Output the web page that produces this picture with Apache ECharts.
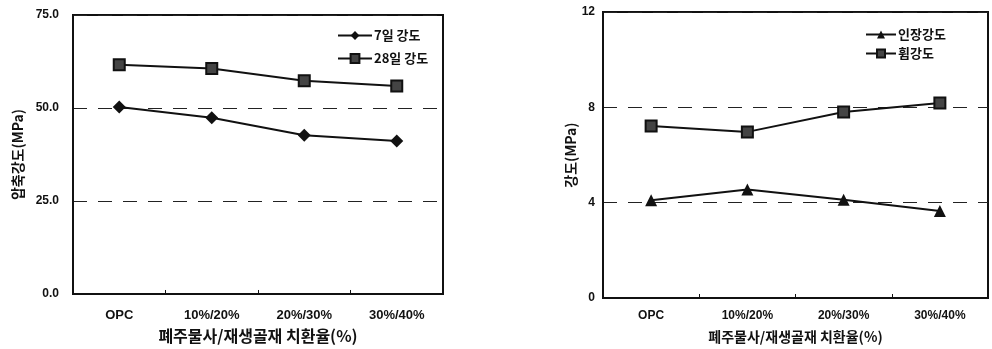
<!DOCTYPE html>
<html><head><meta charset="utf-8">
<script src="https://cdn.jsdelivr.net/npm/echarts@6/dist/echarts.min.js"></script>
<style>html,body{margin:0;padding:0;background:#fff}#c{width:992px;height:349px}</style>
</head><body><div id="c"></div>
<script>
const categories = ['OPC', '10%/20%', '20%/30%', '30%/40%'];
const comp7 = [50.3, 47.4, 42.7, 41.1];
const comp28 = [61.6, 60.6, 57.3, 55.9];
const tensile = [4.1, 4.55, 4.12, 3.65];
const flexural = [7.22, 6.97, 7.8, 8.18];
const leftTicks = { min: 0, max: 75, interval: 25 };
const rightTicks = { min: 0, max: 12, interval: 4 };
const xTitle = '폐주물사/재생골재 치환율(%)';

const FONT = '"Liberation Sans", Arial, "Noto Sans CJK KR", sans-serif';
const KFONT = '"Noto Sans CJK KR", sans-serif';
const ink = '#111';

const chart = echarts.init(document.getElementById('c'));
function xAxis(gi, margin, nameGap, labelSize, nameSize) {
  return {
    type: 'category', gridIndex: gi, data: categories, boundaryGap: true,
    axisLine: { lineStyle: { color: ink, width: 2 } },
    axisTick: { show: true, inside: true, length: 4, lineStyle: { color: ink } },
    axisLabel: { color: ink, fontFamily: FONT, fontWeight: 'bold', fontSize: labelSize, margin: margin },
    name: xTitle, nameLocation: 'middle', nameGap: nameGap,
    nameTextStyle: { color: ink, fontFamily: KFONT, fontWeight: 'bold', fontSize: nameSize }
  };
}
function yAxis(gi, t, name, nameGap, margin, fmt, nameSize) {
  return {
    type: 'value', gridIndex: gi, min: t.min, max: t.max, interval: t.interval,
    axisLine: { show: true, lineStyle: { color: ink, width: 2 } },
    axisTick: { show: false },
    axisLabel: { color: ink, fontFamily: FONT, fontWeight: 'bold', fontSize: 12, margin: margin, formatter: fmt },
    splitLine: { show: true, lineStyle: { color: '#222', type: [14, 11], width: 1 } },
    name: name, nameLocation: 'middle', nameGap: nameGap, nameRotate: 90,
    nameTextStyle: { color: ink, fontFamily: KFONT, fontWeight: 'bold', fontSize: nameSize }
  };
}
const lineStyle = { color: ink, width: 2 };
chart.setOption({
  animation: false,
  backgroundColor: '#fff',
  grid: [
    { left: 73, top: 15, width: 370, height: 283, show: true, borderColor: ink, borderWidth: 2 },
    { left: 603, top: 12, width: 385, height: 287, show: true, borderColor: ink, borderWidth: 2 }
  ],
  legend: [
    { data: ['7일 강도', '28일 강도'], orient: 'vertical', left: 332, top: 24, itemWidth: 34, itemHeight: 11, itemGap: 10,
      textStyle: { color: ink, fontFamily: KFONT, fontWeight: 'bold', fontSize: 13, padding: [0,0,0,-3] } },
    { data: ['인장강도', '휨강도'], orient: 'vertical', left: 860, top: 23, itemWidth: 30, itemHeight: 10, itemGap: 6,
      textStyle: { color: ink, fontFamily: KFONT, fontWeight: 'bold', fontSize: 13, padding: [0,0,0,-3] } }
  ],
  xAxis: [ xAxis(0, 15, 34, 13, 16), xAxis(1, 12, 32, 12, 14) ],
  yAxis: [
    yAxis(0, leftTicks, '압축강도(MPa)', 48, 14, v => v.toFixed(1), 14),
    yAxis(1, rightTicks, '강도(MPa)', 18, 8, v => String(v), 14)
  ],
  series: [
    { name: '7일 강도', type: 'line', xAxisIndex: 0, yAxisIndex: 0, data: comp7,
      symbol: 'diamond', symbolSize: 13, lineStyle: lineStyle, itemStyle: { color: ink } },
    { name: '28일 강도', type: 'line', xAxisIndex: 0, yAxisIndex: 0, data: comp28,
      symbol: 'rect', symbolSize: 11, lineStyle: lineStyle, itemStyle: { color: '#444', borderColor: ink, borderWidth: 2 } },
    { name: '인장강도', type: 'line', xAxisIndex: 1, yAxisIndex: 1, data: tensile,
      symbol: 'triangle', symbolSize: 12, lineStyle: lineStyle, itemStyle: { color: ink } },
    { name: '휨강도', type: 'line', xAxisIndex: 1, yAxisIndex: 1, data: flexural,
      symbol: 'rect', symbolSize: 11, lineStyle: lineStyle, itemStyle: { color: '#444', borderColor: ink, borderWidth: 2 } }
  ]
});
</script>
</body></html>
